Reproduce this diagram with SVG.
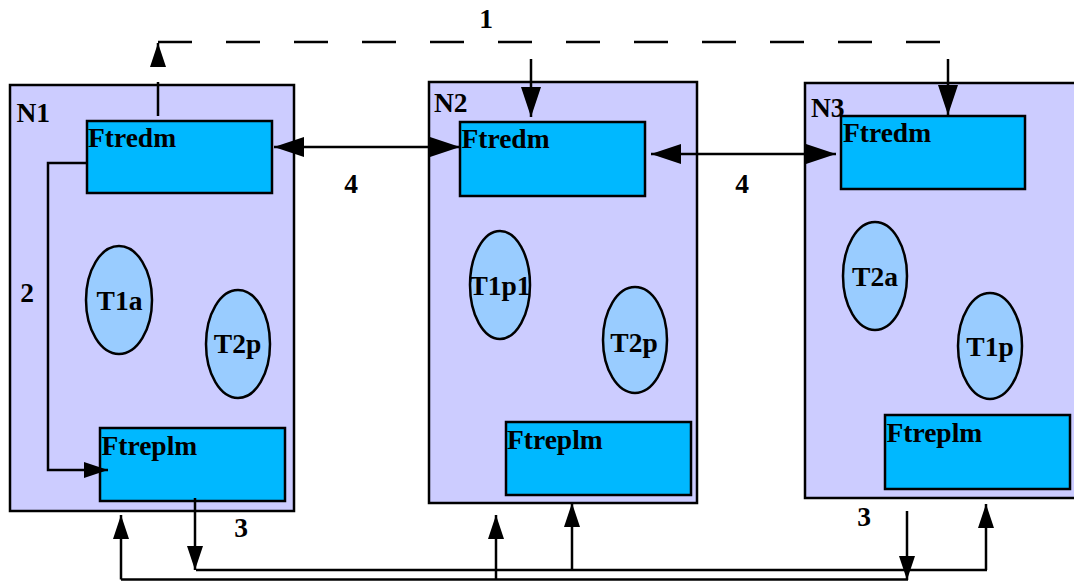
<svg xmlns="http://www.w3.org/2000/svg" width="1074" height="582" viewBox="0 0 1074 582">
<style>
.node{fill:#CCCCFF;stroke:#000;stroke-width:2.5}
.mod{fill:#00B8FF;stroke:#000;stroke-width:2.5}
.task{fill:#99CCFF;stroke:#000;stroke-width:2.5}
text{font-family:"Liberation Serif","Times New Roman",serif;font-weight:bold;font-size:27.5px;fill:#000}
.mid{text-anchor:middle}
.ln{fill:none;stroke:#000;stroke-width:2.5}
.dash{stroke-dasharray:34 34}
</style>
<defs>
<marker id="big" markerUnits="userSpaceOnUse" markerWidth="30" markerHeight="20" refX="30" refY="10" orient="auto-start-reverse" viewBox="0 0 30 20">
<path d="M0,0 L30,10 L0,20 z" fill="#000"/>
</marker>
<marker id="small" markerUnits="userSpaceOnUse" markerWidth="24" markerHeight="16" refX="24" refY="8" orient="auto-start-reverse" viewBox="0 0 24 16">
<path d="M0,0 L24,8 L0,16 z" fill="#000"/>
</marker>
</defs>
<rect width="1074" height="582" fill="#fff"/>
<g id="N1">
<rect class="node" x="10" y="85" width="284" height="426"/>
<g id="N1-Ftredm"><rect class="mod" x="87" y="121" width="185" height="72"/><text x="88" y="147">Ftredm</text></g>
<g id="N1-Ftreplm"><rect class="mod" x="100" y="428" width="185" height="73"/><text x="101.5" y="455">Ftreplm</text></g>
<g id="N1-T1a"><ellipse class="task" cx="119" cy="300" rx="33" ry="54"/><text class="mid" x="119.5" y="310">T1a</text></g>
<g id="N1-T2p"><ellipse class="task" cx="238" cy="344" rx="32" ry="54"/><text class="mid" x="237.5" y="353">T2p</text></g>
<text x="16.5" y="121.5">N1</text>
</g>
<g id="N2">
<rect class="node" x="429" y="82" width="268" height="421"/>
<g id="N2-Ftredm"><rect class="mod" x="460" y="122" width="185" height="74"/><text x="461.5" y="148">Ftredm</text></g>
<g id="N2-Ftreplm"><rect class="mod" x="506" y="422" width="185" height="73"/><text x="507" y="449">Ftreplm</text></g>
<g id="N2-T1p1"><ellipse class="task" cx="500" cy="285" rx="30" ry="54"/><text class="mid" x="500" y="295">T1p1</text></g>
<g id="N2-T2p"><ellipse class="task" cx="635" cy="340" rx="32" ry="53"/><text class="mid" x="634" y="352">T2p</text></g>
<text x="434" y="112">N2</text>
</g>
<g id="N3">
<rect class="node" x="805" y="83" width="272" height="415"/>
<g id="N3-Ftredm"><rect class="mod" x="841" y="116" width="184" height="73"/><text x="843" y="142">Ftredm</text></g>
<g id="N3-Ftreplm"><rect class="mod" x="885" y="415" width="185" height="74"/><text x="886.5" y="442">Ftreplm</text></g>
<g id="N3-T2a"><ellipse class="task" cx="875" cy="276" rx="32" ry="54"/><text class="mid" x="875" y="286">T2a</text></g>
<g id="N3-T1p"><ellipse class="task" cx="990" cy="346" rx="32" ry="53"/><text class="mid" x="990" y="356">T1p</text></g>
<text x="811" y="117">N3</text>
</g>
<g id="connectors">
<path class="ln dash" d="M158,42 H940"/>
<path class="ln" d="M158,116 V82"/>
<path class="ln" d="M158,66 V43" marker-end="url(#small)"/>
<path class="ln" d="M531,59 V117" marker-end="url(#big)"/>
<path class="ln" d="M948,59 V115" marker-end="url(#big)"/>
<path class="ln" d="M87,163 H48 V470 H108" marker-end="url(#small)"/>
<path class="ln" d="M274,147 H460" marker-start="url(#big)" marker-end="url(#big)"/>
<path class="ln" d="M651,154 H836" marker-start="url(#big)" marker-end="url(#big)"/>
<path class="ln" d="M195,498 V570" marker-end="url(#small)"/>
<path class="ln" d="M196,570 H987"/>
<path class="ln" d="M986,570 V504" marker-end="url(#small)"/>
<path class="ln" d="M572,570 V503" marker-end="url(#small)"/>
<path class="ln" d="M121,579.5 H908"/>
<path class="ln" d="M121,579.5 V515" marker-end="url(#small)"/>
<path class="ln" d="M496,579.5 V515" marker-end="url(#small)"/>
<path class="ln" d="M907,511 V580" marker-end="url(#small)"/>
<text class="mid" x="486" y="28">1</text>
<text class="mid" x="27" y="302">2</text>
<text class="mid" x="241" y="537">3</text>
<text class="mid" x="864" y="526">3</text>
<text class="mid" x="351" y="193">4</text>
<text class="mid" x="742" y="193">4</text>
</g>
</svg>
